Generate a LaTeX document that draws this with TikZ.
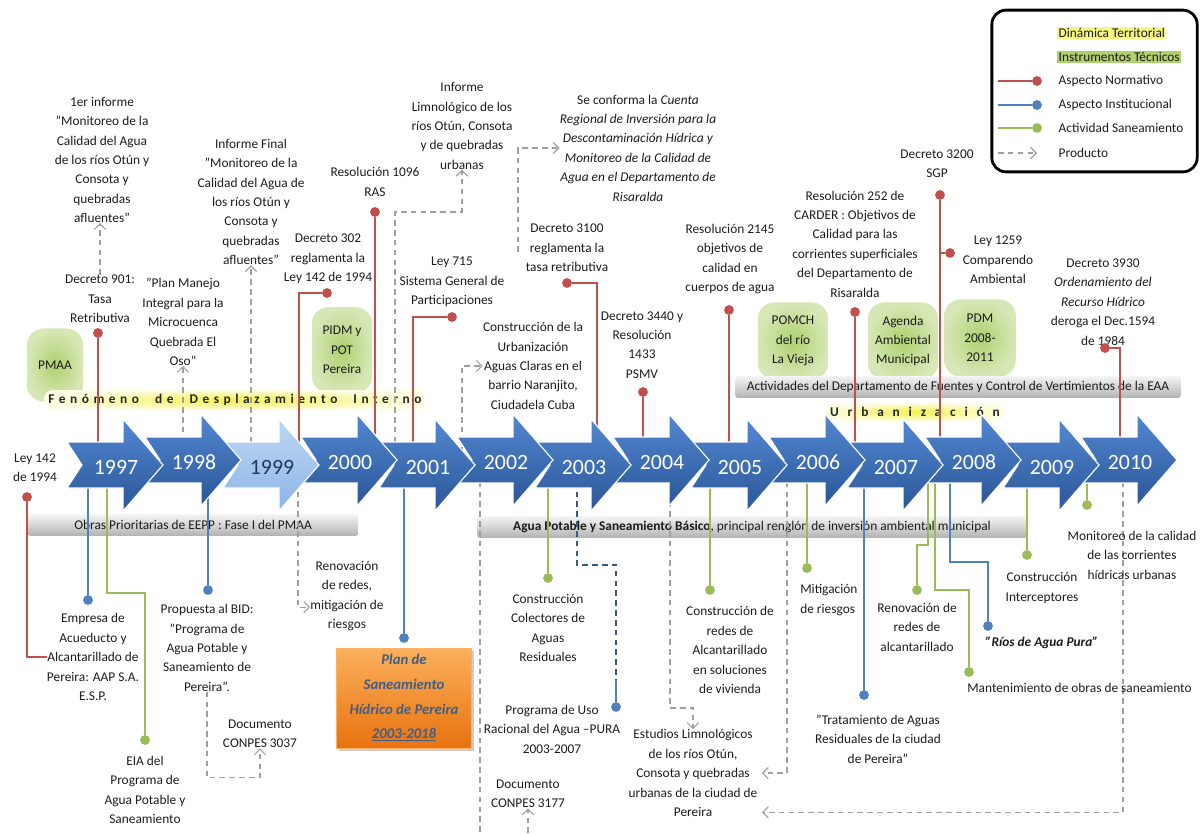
\documentclass[tikz,border=0pt]{standalone}
\usepackage{fontspec}
\setmainfont{Carlito}
\newfontfamily\spacedfont[LetterSpace=34]{Carlito}
\newfontfamily\widefont[LetterSpace=66]{Carlito}
\usetikzlibrary{shapes, arrows.meta, positioning, shadows, calc}

\definecolor{normred}{HTML}{C0504D}
\definecolor{instblue}{HTML}{4F81BD}
\definecolor{sangreen}{HTML}{9BBB59}
\definecolor{arrowtop}{HTML}{5287D2}
\definecolor{arrowbot}{HTML}{2B5797}
\definecolor{palebluetop}{HTML}{BCD7F5}
\definecolor{palebluebot}{HTML}{8DB5E6}
\definecolor{yeardark}{HTML}{1F3864}
\definecolor{glowgreen}{HTML}{AFD06E}
\definecolor{hiyellow}{HTML}{F2F24A}
\definecolor{txt}{HTML}{1C1C1C}
\definecolor{planblue}{HTML}{3E5E86}
\definecolor{orangetop}{HTML}{FBB05C}
\definecolor{orangebot}{HTML}{E8720F}

\pgfdeclarelayer{back}
\pgfdeclarelayer{mid}
\pgfsetlayers{back,mid,main}

\tikzset{
  every node/.style={font=\fontsize{9.5}{13.8}\selectfont, text=txt},
  lbl/.style={align=center, inner sep=0pt},
  dot/.style={circle, inner sep=0pt, minimum size=7pt},
  normdot/.style={dot, fill=normred},
  instdot/.style={dot, fill=instblue},
  sandot/.style={dot, fill=sangreen},
  normline/.style={draw=normred, line width=1.1pt},
  instline/.style={draw=instblue, line width=1.1pt},
  sanline/.style={draw=sangreen, line width=1.1pt},
  product/.style={draw=gray!75, line width=0.8pt, dash pattern=on 4pt off 3pt, -{Straight Barb[length=4pt,width=8pt]}},
  glow/.style={rounded corners=12pt, inner color=glowgreen, outer color=glowgreen!50, align=center, inner sep=0pt},
  banner/.style={top color=gray!8, bottom color=gray!60, minimum height=15.6pt, inner sep=0pt, rounded corners=2pt},
  hilite/.style={inner color=hiyellow, outer color=hiyellow!15, rounded corners=6pt, inner sep=3pt, text=black!85, font=\fontsize{9.5}{13.8}\selectfont\bfseries},
  planbox/.style={align=center, font=\fontsize{10.5}{17.5}\selectfont\bfseries\itshape, text=planblue, top color=orangetop, bottom color=orangebot, draw=orange!60, minimum width=96pt, minimum height=71pt, drop shadow={opacity=0.4, shadow xshift=2pt, shadow yshift=-2pt}},
  yearlbl/.style={font=\fontsize{15.5}{15.5}\selectfont, text=white}
}

\begin{document}
\begin{tikzpicture}[x=0.025cm, y=-0.025cm]
\useasboundingbox (0,0) rectangle (1201,834);

\begin{pgfonlayer}{back}
  \node[glow, minimum width=40pt, minimum height=52pt] (pmaa) at (55,365) {PMAA};
  \node[glow, minimum width=43pt, minimum height=61pt] (pidm) at (342,350) {PIDM y\\POT\\Pereira};
  \node[glow, minimum width=50pt, minimum height=55pt] (pomch) at (793,341) {POMCH\\del río\\La Vieja};
  \node[glow, minimum width=50pt, minimum height=55pt] (agenda) at (903,341) {Agenda\\Ambiental\\Municipal};
  \node[glow, minimum width=51pt, minimum height=55pt] (pdm) at (980,338) {PDM\\2008-\\2011};
  \node[hilite] (fenom) at (235,400) {\spacedfont\bfseries Fenómeno\hspace{6pt} de\hspace{6pt} Desplazamiento\hspace{6pt} Interno};
  \node[hilite] (urban) at (915,412) {\widefont\bfseries Urbanización};
  \node[banner, minimum width=317pt] (eaa) at (958,387) {Actividades del Departamento de Fuentes y Control de Vertimientos de la EAA};
  \node[banner, minimum width=235pt] (obras) at (193,525) {Obras Prioritarias de EEPP : Fase I del PMAA};
  \node[banner, minimum width=391pt] (aguapot) at (752,527) {\textbf{Agua Potable y Saneamiento Básico}, principal renglón de inversión ambiental municipal};
\end{pgfonlayer}

\node[draw=black, line width=2pt, rounded corners=10pt, minimum width=146pt, minimum height=115pt] (legend) at (1094.5,91) {};
\node[anchor=west, fill=hiyellow!70, inner sep=1pt] (ldin) at (1057,33) {Dinámica Territorial};
\node[anchor=west, fill=glowgreen, inner sep=1pt] (lins) at (1057,57) {Instrumentos Técnicos};
\node[anchor=west, inner sep=1pt] (lnorm) at (1057,81) {Aspecto Normativo};
\node[anchor=west, inner sep=1pt] (linst) at (1057,105) {Aspecto Institucional};
\node[anchor=west, inner sep=1pt] (lsan) at (1057,128) {Actividad Saneamiento};
\node[anchor=west, inner sep=1pt] (lprod) at (1057,153) {Producto};
\node[normdot] (lnormdot) at (1037,81) {};
\node[instdot] (linstdot) at (1037,105) {};
\node[sandot] (lsandot) at (1037,128) {};
\coordinate (lnorms) at (998,81);
\coordinate (linsts) at (998,105);
\coordinate (lsans) at (998,128);
\coordinate (lprods) at (998,153);
\coordinate (lprode) at (1037,153);

\node[lbl] (t1er) at (102,160) {1er informe\\"Monitoreo de la\\Calidad del Agua\\de los ríos Otún y\\Consota y\\quebradas\\afluentes"};
\node[lbl] (d901) at (100,299) {Decreto 901:\\Tasa\\Retributiva};
\node[normdot] (n901) at (98,333) {};
\node[lbl] (oso) at (183,322) {"Plan Manejo\\Integral para la\\Microcuenca\\Quebrada El\\Oso"};
\node[lbl] (infofin) at (251,202) {Informe Final\\"Monitoreo de la\\Calidad del Agua de\\los ríos Otún y\\Consota y\\quebradas\\afluentes"};
\node[lbl] (d302) at (328,259) {Decreto 302\\reglamenta la\\Ley 142 de 1994};
\node[normdot] (n302) at (327,293) {};
\node[lbl] (r1096) at (375,182) {Resolución 1096\\RAS};
\node[normdot] (n1096) at (375,212) {};
\node[lbl] (limno) at (462,126) {Informe\\Limnológico de los\\ríos Otún, Consota\\y de quebradas\\urbanas};
\node[lbl] (cuenta) at (638,148) {Se conforma la \textit{Cuenta}\\\textit{Regional de Inversión para la}\\\textit{Descontaminación Hídrica y}\\\textit{Monitoreo de la Calidad de}\\\textit{Agua en el Departamento de}\\\textit{Risaralda}};
\node[lbl] (d3100) at (567,248) {Decreto 3100\\reglamenta la\\tasa retributiva};
\node[normdot] (n3100) at (567,283) {};
\node[lbl] (ley715) at (452,282) {Ley 715\\Sistema General de\\Participaciones};
\node[normdot] (n715) at (452,317) {};
\node[lbl] (aguascl) at (533,366) {Construcción de la\\Urbanización\\Aguas Claras en el\\barrio Naranjito,\\Ciudadela Cuba};
\node[lbl] (d3440) at (642,345) {Decreto 3440 y\\Resolución\\1433\\PSMV};
\node[normdot] (n3440) at (643,392) {};
\node[lbl] (r2145) at (730,259) {Resolución 2145\\objetivos de\\calidad en\\cuerpos de agua};
\node[normdot] (n2145) at (729,310) {};
\node[lbl] (r252) at (855,244) {Resolución 252 de\\CARDER : Objetivos de\\Calidad para las\\corrientes superficiales\\del Departamento de\\Risaralda};
\node[normdot] (n252) at (855,312) {};
\node[lbl] (d3200) at (937,164) {Decreto 3200\\SGP};
\node[normdot] (n3200) at (940,195) {};
\node[lbl] (ley1259) at (998,260) {Ley 1259\\Comparendo\\Ambiental};
\node[normdot] (n1259) at (950,253) {};
\node[lbl] (d3930) at (1103,302) {Decreto 3930\\\textit{Ordenamiento del}\\\textit{Recurso Hídrico}\\deroga el Dec.1594\\de 1984};
\node[normdot] (n3930) at (1105,348) {};

\node[lbl] (ley142) at (35,468) {Ley 142\\de 1994};
\node[normdot] (n142) at (27,497) {};
\node[lbl] (empresa) at (93,657) {Empresa de\\Acueducto y\\Alcantarillado de\\Pereira: AAP S.A.\\E.S.P.};
\node[instdot] (nemp) at (88,600) {};
\node[sandot] (neia) at (145,740) {};
\node[lbl] (eia) at (145,790) {EIA del\\Programa de\\Agua Potable y\\Saneamiento};
\node[instdot] (nbid) at (208,590) {};
\node[lbl] (bid) at (207,648) {Propuesta al BID:\\"Programa de\\Agua Potable y\\Saneamiento de\\Pereira".};
\node[lbl] (c3037) at (260,734) {Documento\\CONPES 3037};
\node[lbl] (renov) at (347,596) {Renovación\\de redes,\\mitigación de\\riesgos};
\node[instdot] (nplan) at (404,638) {};
\node[planbox] (plan) at (404,698) {Plan de\\Saneamiento\\Hídrico de Pereira\\\underline{2003-2018}};
\node[lbl] (c3177) at (528,794) {Documento\\CONPES 3177};
\node[sandot] (ncol) at (548,578) {};
\node[lbl] (colect) at (548,628) {Construcción\\Colectores de\\Aguas\\Residuales};
\node[instdot] (npura) at (616,707) {};
\node[lbl] (pura) at (552,729) {Programa de Uso\\Racional del Agua –PURA\\2003-2007};
\node[lbl] (estud) at (693,773) {Estudios Limnológicos\\de los ríos Otún,\\Consota y quebradas\\urbanas de la ciudad de\\Pereira};
\node[sandot] (nredes) at (710,590) {};
\node[lbl] (redes) at (730,650) {Construcción de\\redes de\\Alcantarillado\\en soluciones\\de vivienda};
\node[sandot] (nmitig) at (807,568) {};
\node[lbl, align=left, anchor=west] (mitig) at (800,600) {Mitigación\\de riesgos};
\node[instdot] (ntrat) at (864,695) {};
\node[lbl] (trat) at (878,739) {"Tratamiento de Aguas\\Residuales de la ciudad\\de Pereira"};
\node[sandot] (nrenov2) at (917,590) {};
\node[lbl] (renov2) at (917,627) {Renovación de\\redes de\\alcantarillado};
\node[sandot] (nmant) at (969,672) {};
\node[lbl, anchor=west] (mant) at (967,688) {Mantenimiento de obras de saneamiento};
\node[instdot] (nrios) at (988,626) {};
\node[lbl, font=\fontsize{9.5}{13.8}\selectfont\bfseries\itshape] (rios) at (1042,643) {"Ríos de Agua Pura"};
\node[sandot] (ninter) at (1027,555) {};
\node[lbl] (inter) at (1042,588) {Construcción\\Interceptores};
\node[sandot] (nmoni) at (1087,505) {};
\node[lbl] (moni) at (1132,555) {Monitoreo de la calidad\\de las corrientes\\hídricas urbanas};

\coordinate (b901) at (98,462);
\coordinate (b98p) at (183,462);
\coordinate (b99p) at (251,462);
\coordinate (b302) at (299,462);
\coordinate (b1096) at (375,462);
\coordinate (b00l) at (395,462);
\coordinate (b715) at (413,462);
\coordinate (b01p) at (462,462);
\coordinate (cprod) at (518,252);
\coordinate (b3100) at (597,462);
\coordinate (b3440) at (643,462);
\coordinate (b2145) at (729,462);
\coordinate (b252) at (855,462);
\coordinate (b3200) at (940,462);
\coordinate (b3930) at (1120,462);
\coordinate (b97i) at (88,462);
\coordinate (b97s) at (107,462);
\coordinate (b98i) at (208,462);
\coordinate (b00p) at (298,462);
\coordinate (b01i) at (404,462);
\coordinate (b02p) at (480,462);
\coordinate (b03s) at (548,462);
\coordinate (b03p) at (577,462);
\coordinate (b04p) at (670,462);
\coordinate (b05s) at (710,462);
\coordinate (b05p) at (787,462);
\coordinate (b06s) at (807,462);
\coordinate (b07i) at (864,462);
\coordinate (b08s) at (928,462);
\coordinate (b08t) at (935,462);
\coordinate (b08i) at (950,462);
\coordinate (b09s) at (1027,462);
\coordinate (b10s) at (1087,462);
\coordinate (b10p) at (1123,462);

\begin{pgfonlayer}{mid}
  \draw[normline] (lnorms) -- (lnormdot);
  \draw[instline] (linsts) -- (linstdot);
  \draw[sanline] (lsans) -- (lsandot);
  \draw[product] (lprods) -- (lprode);

  \draw[normline] (n901) -- (b901);
  \draw[normline] (n302) -| (b302);
  \draw[normline] (n1096) -- (b1096);
  \draw[normline] (n715) -| (b715);
  \draw[normline] (n3100) -| (b3100);
  \draw[normline] (n3440) -- (b3440);
  \draw[normline] (n2145) -- (b2145);
  \draw[normline] (n252) -- (b252);
  \draw[normline] (n3200) -- (b3200);
  \draw[normline] (n1259) -- (n1259 -| n3200);
  \draw[normline] (n3930) -| (b3930);
  \draw[normline] (n142) |- (empresa.west);

  \draw[product] (d901.north) -- (d901.north |- t1er.south);
  \draw[product] (b98p) -- (oso);
  \draw[product] (b99p) -- (infofin);
  \draw[product] (b00l) -- ++(0,-250) -| (limno.south);
  \draw[product] (cprod) |- (cuenta.west);
  \draw[product] (b01p) |- (aguascl.west);

  \draw[instline] (b97i) -- (nemp);
  \draw[sanline] (b97s) -- ++(0,131) -| (neia);
  \draw[instline] (b98i) -- (nbid);
  \draw[product] (bid.south) -- ++(0,86) -| (c3037.south);
  \draw[product] (b00p) |- ([yshift=-8pt]renov.west);
  \draw[instline] (b01i) -- (nplan);
  \draw[product] (b02p) -- ++(0,383) -| (c3177.south);
  \draw[sanline] (b03s) -- (ncol);
  \draw[draw=instblue!70!black, line width=0.8pt, dash pattern=on 4pt off 3pt] (b03p) -- ++(0,103) -| ([yshift=19pt]npura.center);
  \draw[instline] ([yshift=19pt]npura.center) -- (npura);
  \draw[product] (b04p) -- ++(0,246) -| (estud.north);
  \draw[sanline] (b05s) -- (nredes);
  \draw[product] (b05p) |- ([xshift=3pt]estud.east);
  \draw[product] (b10p) |- ([xshift=3pt,yshift=-28pt]estud.east);
  \draw[sanline] (b06s) -- (nmitig);
  \draw[instline] (b07i) -- (ntrat);
  \draw[sanline] (b08s) -- ++(0,83) -| (nrenov2);
  \draw[sanline] (b08t) -- ++(0,128) -| (nmant);
  \draw[instline] (b08i) -- ++(0,100) -| (nrios);
  \draw[sanline] (b09s) -- (ninter);
  \draw[sanline] (b10s) -- (nmoni);
\end{pgfonlayer}

\foreach \i in {13,12,...,0}{
  \pgfmathtruncatemacro\yr{1997+\i}
  \pgfmathsetmacro\xl{67+78*\i}
  \pgfmathsetmacro\yc{465-5*mod(\i,2)}
  \ifnum\i=2
    \tikzset{yearfill/.style={top color=palebluetop, bottom color=palebluebot}, yeartext/.style={text=yeardark}}
  \else
    \tikzset{yearfill/.style={top color=arrowtop, bottom color=arrowbot}, yeartext/.style={}}
  \fi
  \path[yearfill, draw=white, line width=0.8pt] (\xl,\yc-23) -- (\xl+56,\yc-23) -- (\xl+56,\yc-46) -- (\xl+96,\yc) -- (\xl+56,\yc+46) -- (\xl+56,\yc+23) -- (\xl,\yc+23) -- (\xl+15,\yc) -- cycle;
  \node[yearlbl, yeartext] (y\yr) at (\xl+49,\yc+2) {\yr};
}
\end{tikzpicture}
\end{document}
